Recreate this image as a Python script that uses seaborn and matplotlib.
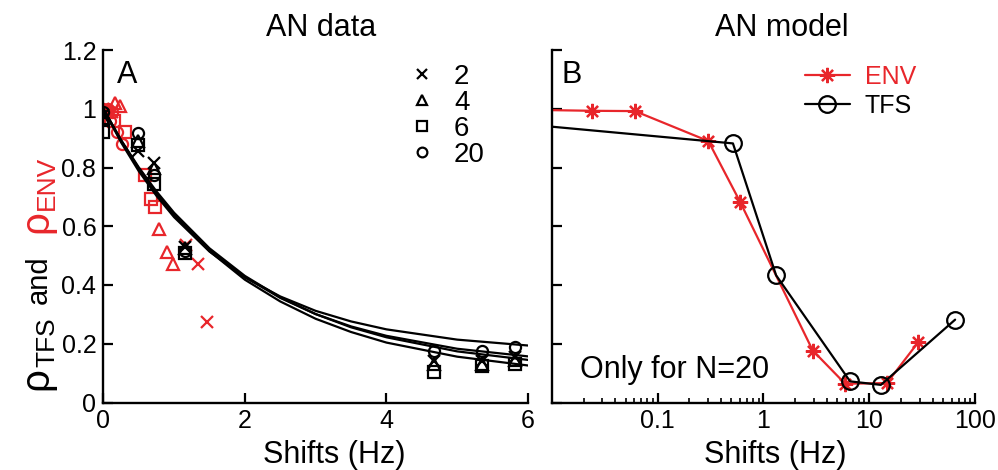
import matplotlib
matplotlib.use("Agg")
import matplotlib.pyplot as plt
import seaborn as sns
from matplotlib.lines import Line2D
from matplotlib.ticker import FixedLocator, FixedFormatter, LogLocator, NullFormatter

# ---- panel A: AN data (black = TFS, red = ENV), marker = number of fibres N
tfs_shift = [0.0, 0.49, 0.71, 1.16, 4.67, 5.35, 5.82]
tfs_n2 = [0.98, 0.855, 0.815, 0.53, 0.14, 0.14, 0.155]
tfs_n4 = [0.97, 0.89, 0.80, 0.525, 0.132, 0.13, 0.145]
tfs_n6 = [0.92, 0.875, 0.745, 0.508, 0.103, 0.125, 0.13]
tfs_n20 = [0.99, 0.918, 0.775, 0.515, 0.177, 0.175, 0.19]

env_n2_shift = [0.0, 0.12, 1.17, 1.34, 1.46]
env_n2 = [1.0, 0.99, 0.535, 0.47, 0.275]
env_n4_shift = [0.0, 0.17, 0.24, 0.79, 0.90, 0.98]
env_n4 = [1.0, 1.02, 1.01, 0.592, 0.512, 0.47]
env_n6_shift = [0.0, 0.15, 0.30, 0.59, 0.68, 0.73]
env_n6 = [0.99, 0.96, 0.92, 0.774, 0.694, 0.666]
env_n20_shift = [0.0, 0.03, 0.06, 0.10, 0.12, 0.20, 0.27]
env_n20 = [1.0, 0.985, 1.0, 0.96, 0.99, 0.92, 0.88]

# fitted decay curves
fit_shift = [0, 0.25, 0.5, 0.75, 1, 1.5, 2, 2.5, 3, 3.5, 4, 5, 6]
fit_n20 = [1.0, 0.886, 0.788, 0.704, 0.631, 0.514, 0.426, 0.361, 0.312, 0.276, 0.249, 0.214, 0.194]
fit_n2 = [1.0, 0.892, 0.797, 0.713, 0.640, 0.520, 0.427, 0.356, 0.301, 0.259, 0.227, 0.183, 0.157]
fit_n4 = [1.0, 0.894, 0.801, 0.719, 0.646, 0.525, 0.431, 0.358, 0.301, 0.256, 0.222, 0.174, 0.145]
fit_n6 = [1.0, 0.892, 0.797, 0.712, 0.638, 0.515, 0.418, 0.344, 0.285, 0.240, 0.204, 0.156, 0.126]

n_labels = ["2", "4", "6", "20"]
n_markers = ["x", "^", "s", "o"]

# ---- panel B: AN model, N=20
model_env_shift = [0.005, 0.0242, 0.0612, 0.302, 0.603, 2.93, 5.92, 14.7, 29.2]
model_env = [0.997, 0.993, 0.992, 0.890, 0.683, 0.177, 0.064, 0.066, 0.206]
model_tfs_shift = [0.005, 0.516, 1.32, 6.6, 12.9, 64.9]
model_tfs = [0.949, 0.882, 0.433, 0.072, 0.060, 0.282]

RED = "#e8262b"
W, H = 998, 470

sns.set_theme(style="ticks")
plt.rcParams["font.family"] = ["Liberation Sans", "DejaVu Sans"]
plt.rcParams["axes.linewidth"] = 1.7
for key in ("text.color", "axes.labelcolor", "xtick.color", "ytick.color", "axes.edgecolor"):
    plt.rcParams[key] = "black"

fig = plt.figure(figsize=(W / 100, H / 100), dpi=100)
axA = fig.add_axes([103.3 / W, 67.5 / H, 424.7 / W, 352.5 / H])
axB = fig.add_axes([551.7 / W, 67.5 / H, 423.3 / W, 352.5 / H])

# --- panel A
for fy in (fit_n20, fit_n2, fit_n4, fit_n6):
    sns.lineplot(x=fit_shift, y=fy, ax=axA, color="black", lw=1.6, sort=False, estimator=None, zorder=3)

red_sets = [(env_n2_shift, env_n2), (env_n4_shift, env_n4), (env_n6_shift, env_n6), (env_n20_shift, env_n20)]
black_sets = [tfs_n2, tfs_n4, tfs_n6, tfs_n20]
for (ex, ey), ty, m in zip(red_sets, black_sets, n_markers):
    sns.lineplot(x=ex, y=ey, ax=axA, color=RED, linestyle="none", marker=m, ms=8,
                 mfc="none", mec=RED, mew=1.6, sort=False, estimator=None, zorder=2)
    sns.lineplot(x=tfs_shift, y=ty, ax=axA, color="black", linestyle="none", marker=m, ms=8,
                 mfc="none", mec="black", mew=1.6, sort=False, estimator=None, zorder=4)

axA.set_xlim(0, 6)
axA.set_ylim(0, 1.2)
axA.set_xticks([0, 2, 4, 6])
axA.set_xticklabels(["0", "2", "4", "6"])
axA.set_yticks([0, 0.2, 0.4, 0.6, 0.8, 1.0, 1.2])
axA.set_yticklabels(["0", "0.2", "0.4", "0.6", "0.8", "1", "1.2"])

handles = [Line2D([], [], linestyle="none", marker=m, ms=7, mfc="none", mec="black", mew=1.6)
           for m in n_markers]
axA.legend(handles, n_labels, loc="upper left", bbox_to_anchor=(0.7245, 0.96), frameon=False,
           fontsize=20, handlelength=0.8, handletextpad=0.75, labelspacing=0.0,
           borderpad=0, borderaxespad=0)
axA.text(0.056, 0.929, "A", transform=axA.transAxes, fontsize=22, ha="center", va="center")

# --- panel B
sns.lineplot(x=model_env_shift, y=model_env, ax=axB, color=RED, lw=1.6, marker=(8, 2, 0), ms=11,
             mec=RED, mew=1.6, sort=False, estimator=None)
sns.lineplot(x=model_tfs_shift, y=model_tfs, ax=axB, color="black", lw=1.6, marker="o", ms=12,
             mfc="none", mec="black", mew=1.6, sort=False, estimator=None)
axB.set_xscale("log")
axB.set_xlim(0.01, 100)
axB.set_ylim(0, 1.2)
axB.xaxis.set_major_locator(FixedLocator([0.1, 1, 10, 100]))
axB.xaxis.set_major_formatter(FixedFormatter(["0.1", "1", "10", "100"]))
axB.xaxis.set_minor_locator(LogLocator(base=10, subs=range(2, 10), numticks=20))
axB.xaxis.set_minor_formatter(NullFormatter())
axB.set_yticks([0, 0.2, 0.4, 0.6, 0.8, 1.0, 1.2])
axB.set_yticklabels([])

leg_handles = [Line2D([], [], color=RED, lw=1.6, marker=(8, 2, 0), ms=11, mec=RED, mew=1.6),
               Line2D([], [], color="black", lw=1.6, marker="o", ms=12, mfc="none", mec="black", mew=1.6)]
legB = axB.legend(leg_handles, ["ENV", "TFS"], loc="upper left", bbox_to_anchor=(0.598, 0.958),
                  frameon=False, fontsize=18, handlelength=1.8, handletextpad=0.6,
                  labelspacing=0.2, borderpad=0, borderaxespad=0)
legB.get_texts()[0].set_color(RED)
axB.text(0.048, 0.929, "B", transform=axB.transAxes, fontsize=22, ha="center", va="center")
axB.text(0.067, 0.091, "Only for N=20", transform=axB.transAxes, fontsize=22, ha="left", va="center")

for ax in (axA, axB):
    sns.despine(ax=ax)
    ax.tick_params(axis="both", which="major", direction="in", length=7.5, width=1.6,
                   labelsize=18, pad=5, colors="black")
    ax.tick_params(axis="x", which="minor", direction="in", length=3.8, width=1.2)
    ax.set_xlabel("")
    ax.set_ylabel("")

axA.text(0.513, 1.062, "AN data", transform=axA.transAxes, fontsize=22, ha="center", va="center")
axB.text(0.544, 1.062, "AN model", transform=axB.transAxes, fontsize=22, ha="center", va="center")
axA.text(0.543, -0.149, "Shifts (Hz)", transform=axA.transAxes, fontsize=22, ha="center", va="center")
axB.text(0.528, -0.149, "Shifts (Hz)", transform=axB.transAxes, fontsize=22, ha="center", va="center")

# y label built from pieces: rho_TFS and rho_ENV (rotated)
renderer = fig.canvas.get_renderer()
x_base = 47 / W
y_pos = 80 / H
pieces = [("ρ", 29, "black", 0), ("TFS", 19, "black", 7), (None, 14, None, 0),
          ("and", 21, "black", 0), (None, 22, None, 0), ("ρ", 29, RED, 0), ("ENV", 19, RED, 7)]
for txt, size, col, shift in pieces:
    if txt is None:
        y_pos += size / H
        continue
    t = fig.text(x_base + shift / W, y_pos, txt, rotation=90, rotation_mode="anchor",
                 ha="left", va="baseline", fontsize=size, color=col)
    bb = t.get_window_extent(renderer)
    y_pos = bb.y1 / H

fig.savefig("out.png", dpi=100)
